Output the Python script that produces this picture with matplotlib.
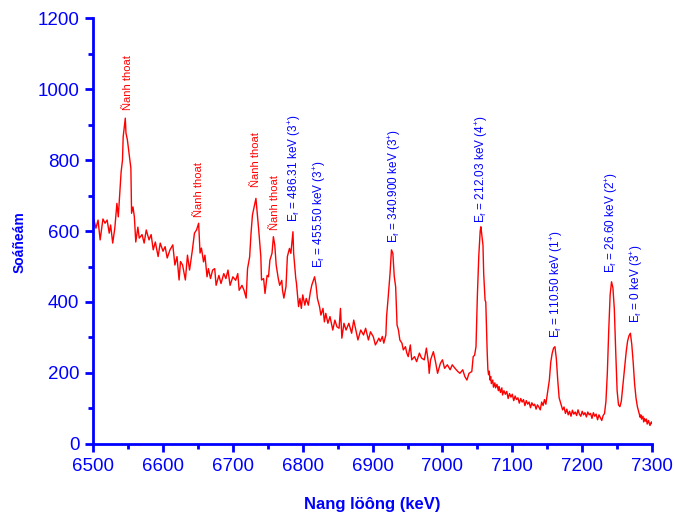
import numpy as np
import matplotlib
matplotlib.use('Agg')
import matplotlib.pyplot as plt
from matplotlib.ticker import MultipleLocator

# espectro (energia en keV, cuentas)
energia = [6500, 6504, 6507, 6510, 6514, 6517, 6520, 6523, 6525, 6528, 6531, 6534, 6536, 6540, 6542, 6543,
           6546, 6547, 6549, 6552, 6554, 6555, 6557, 6559, 6561, 6564, 6566, 6570, 6573, 6576, 6580, 6583,
           6586, 6589, 6593, 6596, 6600, 6603, 6606, 6610, 6614, 6617, 6620, 6623, 6625, 6628, 6632, 6635,
           6638, 6642, 6645, 6648, 6651, 6653, 6655, 6658, 6660, 6663, 6665, 6668, 6671, 6674, 6676, 6680,
           6683, 6687, 6690, 6693, 6696, 6700, 6704, 6707, 6709, 6713, 6716, 6719, 6721, 6724, 6726, 6728,
           6731, 6733, 6735, 6737, 6740, 6741, 6744, 6746, 6749, 6751, 6753, 6756, 6758, 6760, 6762, 6765,
           6767, 6770, 6771, 6773, 6776, 6778, 6781, 6783, 6786, 6787, 6790, 6791, 6794, 6796, 6798, 6800,
           6803, 6805, 6808, 6811, 6813, 6817, 6819, 6821, 6824, 6826, 6829, 6831, 6833, 6836, 6839, 6843,
           6846, 6849, 6852, 6854, 6856, 6859, 6862, 6866, 6870, 6873, 6876, 6879, 6883, 6887, 6890, 6894,
           6897, 6901, 6904, 6907, 6909, 6911, 6914, 6916, 6919, 6920, 6922, 6925, 6927, 6929, 6931, 6933,
           6935, 6937, 6939, 6942, 6944, 6947, 6949, 6951, 6954, 6956, 6960, 6963, 6967, 6970, 6974, 6977,
           6980, 6981, 6983, 6987, 6990, 6993, 6997, 7000, 7003, 7007, 7011, 7014, 7018, 7022, 7025, 7029,
           7032, 7035, 7038, 7042, 7044, 7046, 7048, 7050, 7052, 7054, 7055, 7056, 7058, 7059, 7061, 7062,
           7064, 7065, 7066, 7067, 7068, 7069, 7070, 7072, 7073, 7075, 7076, 7078, 7080, 7081, 7083, 7085,
           7086, 7088, 7090, 7092, 7094, 7096, 7098, 7100, 7102, 7104, 7106, 7108, 7110, 7112, 7114, 7116,
           7118, 7120, 7122, 7124, 7126, 7128, 7130, 7132, 7134, 7136, 7138, 7140, 7142, 7144, 7146, 7148,
           7150, 7153, 7155, 7157, 7159, 7161, 7163, 7165, 7167, 7170, 7172, 7174, 7176, 7178, 7180, 7182,
           7184, 7186, 7188, 7190, 7192, 7194, 7196, 7198, 7200, 7202, 7204, 7206, 7208, 7210, 7212, 7214,
           7216, 7218, 7220, 7222, 7224, 7226, 7228, 7230, 7232, 7234, 7236, 7238, 7240, 7242, 7244, 7246,
           7248, 7250, 7252, 7254, 7256, 7258, 7260, 7263, 7265, 7267, 7269, 7271, 7273, 7275, 7277, 7279,
           7281, 7283, 7284, 7285, 7287, 7288, 7289, 7291, 7292, 7293, 7295, 7296, 7297, 7299, 7300]
cuentas = [640, 608, 631, 575, 634, 622, 631, 594, 617, 566, 608, 678, 640, 766, 800, 866,
           918, 876, 857, 808, 777, 650, 668, 640, 569, 611, 580, 590, 566, 603, 575, 590,
           547, 569, 528, 566, 543, 556, 524, 547, 561, 504, 528, 462, 514, 504, 462, 532,
           490, 546, 594, 603, 622, 538, 552, 513, 532, 471, 494, 466, 490, 494, 447, 475,
           452, 480, 466, 490, 447, 471, 461, 480, 433, 447, 433, 411, 494, 527, 594, 645,
           673, 692, 649, 603, 528, 462, 466, 424, 475, 471, 518, 537, 584, 560, 504, 466,
           447, 461, 434, 411, 443, 528, 551, 537, 598, 537, 467, 453, 387, 410, 382, 420,
           391, 410, 391, 429, 448, 471, 448, 410, 387, 363, 382, 344, 368, 340, 359, 321,
           349, 330, 326, 382, 298, 340, 321, 340, 312, 349, 321, 293, 321, 307, 326, 293,
           316, 302, 279, 290, 298, 289, 303, 284, 307, 359, 406, 481, 547, 537, 472, 443,
           335, 321, 293, 284, 265, 274, 256, 246, 279, 237, 246, 232, 256, 242, 237, 270,
           227, 199, 237, 260, 232, 199, 227, 237, 213, 223, 209, 223, 213, 204, 199, 209,
           190, 180, 199, 204, 246, 250, 274, 420, 530, 600, 612, 595, 560, 480, 405, 400,
           260, 210, 195, 205, 180, 190, 170, 180, 160, 172, 158, 168, 150, 162, 145, 158,
           138, 150, 140, 148, 128, 142, 132, 140, 122, 135, 125, 130, 115, 128, 118, 125,
           108, 122, 112, 118, 102, 116, 108, 112, 98, 110, 104, 96, 118, 108, 125, 112,
           140, 180, 230, 255, 270, 274, 240, 180, 130, 110, 96, 104, 86, 98, 82, 92,
           78, 95, 84, 90, 80, 96, 84, 78, 92, 82, 88, 76, 90, 82, 86, 72,
           88, 78, 84, 68, 82, 74, 66, 80, 86, 120, 200, 320, 420, 457, 440, 380,
           260, 150, 110, 105, 120, 160, 200, 260, 290, 305, 312, 280, 230, 170, 130, 105,
           90, 75, 82, 70, 78, 62, 72, 64, 70, 56, 66, 58, 52, 62, 58]

# picos de escape (rojo) y niveles E_f (azul)
escape_x = [6550, 6651, 6733, 6760]
escape_y = [941, 640, 725, 603]
nivel_x = [6789, 6824, 6931, 7056, 7163, 7242, 7278]
nivel_y = [626, 495, 566, 622, 298, 481, 340]
nivel_txt = ['486.31', '455.50', '340.900', '212.03', '110.50', '26.60', '0']
nivel_spin = ['3', '3', '3', '4', '1', '2', '3']

plt.rcParams['font.family'] = ['Liberation Sans', 'DejaVu Sans']
plt.rcParams['mathtext.default'] = 'regular'

azul = '#0000ff'
fig = plt.figure(figsize=(6.75, 5.18), dpi=100)
ax = fig.add_axes([0.138, 0.143, 0.828, 0.822])

ax.plot(energia, cuentas, color='red', lw=1.0)

for x, y in zip(escape_x, escape_y):
    ax.text(x, y, 'Ñanh thoat', rotation=90, ha='center', va='bottom', color='red', fontsize=8)

for x, y, e, s in zip(nivel_x, nivel_y, nivel_txt, nivel_spin):
    ax.text(x, y, r'E$_{f}$ = %s keV (%s$^{+}$)' % (e, s), rotation=90, ha='center', va='bottom',
            color=azul, fontsize=8.5)

ax.set_xlim(6500, 7300)
ax.set_ylim(0, 1200)
ax.xaxis.set_major_locator(MultipleLocator(100))
ax.xaxis.set_minor_locator(MultipleLocator(50))
ax.yaxis.set_major_locator(MultipleLocator(200))
ax.yaxis.set_minor_locator(MultipleLocator(100))

for lado in ['top', 'right']:
    ax.spines[lado].set_visible(False)
for lado in ['left', 'bottom']:
    ax.spines[lado].set_color(azul)
    ax.spines[lado].set_linewidth(2)

ax.tick_params(which='major', direction='out', length=6, width=2, color=azul, labelcolor=azul,
               labelsize=13.5, pad=4)
ax.tick_params(which='minor', direction='out', length=3.5, width=2, color=azul)

ax.set_xlabel('Nang löông (keV)', color=azul, fontsize=12, fontweight='bold')
ax.set_ylabel('Soáñeám', color=azul, fontsize=10, fontweight='bold')
ax.xaxis.set_label_coords(0.5, -0.125)
ax.yaxis.set_label_coords(-0.12, 0.474)

fig.savefig('out.png', dpi=100)
